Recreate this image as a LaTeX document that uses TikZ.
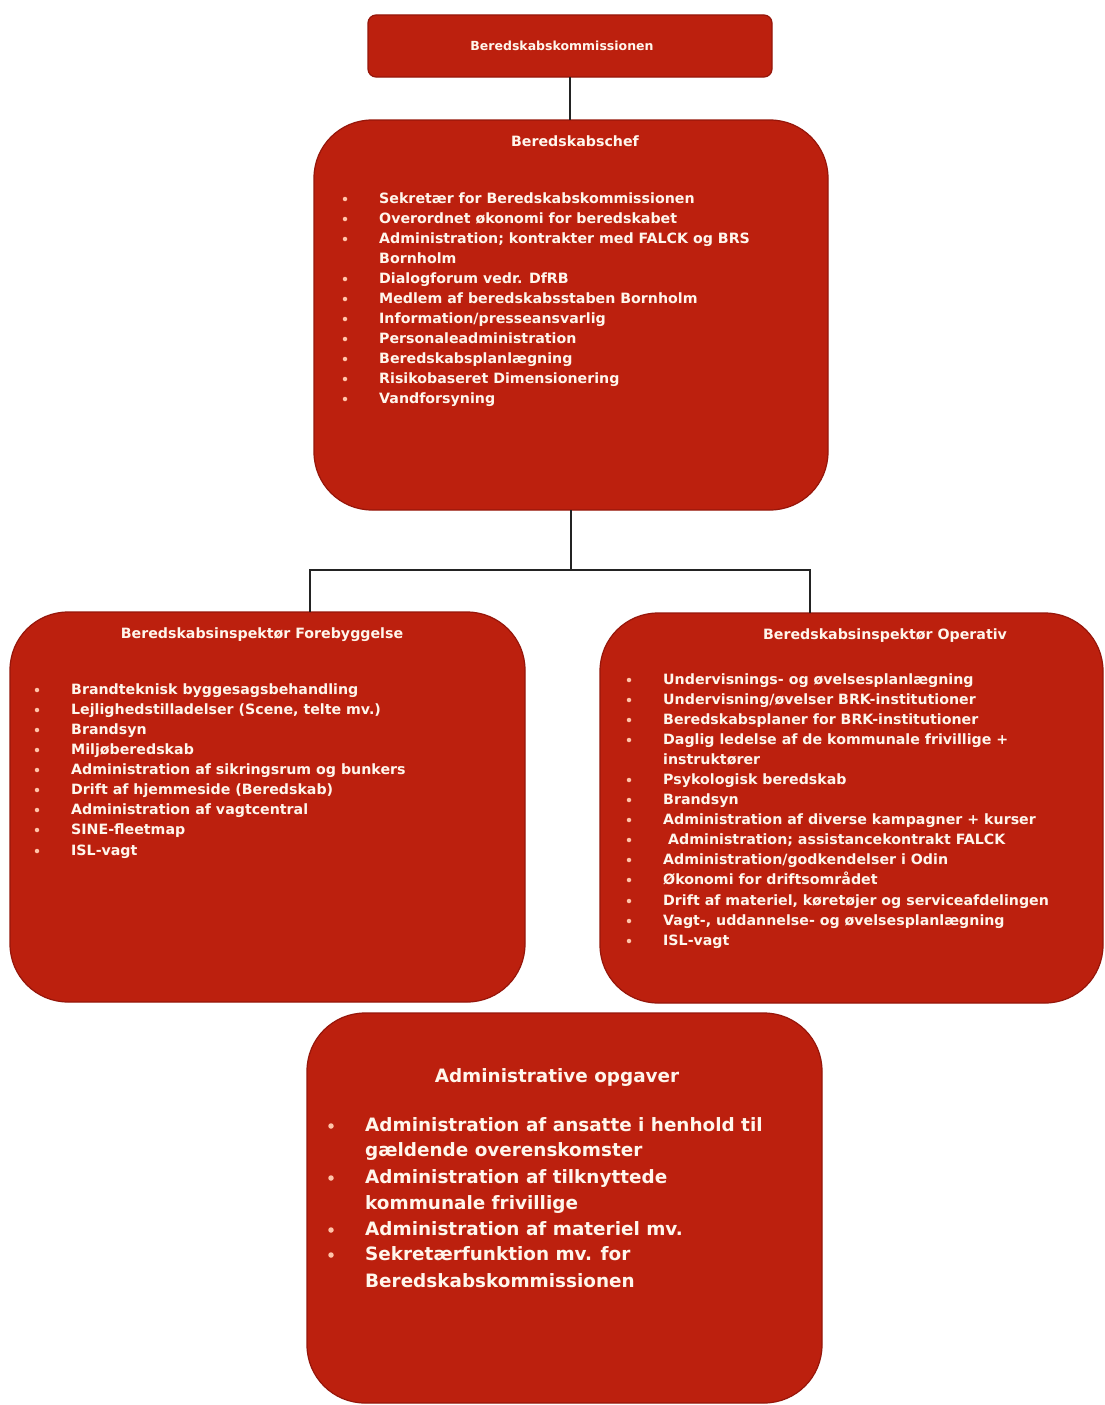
\documentclass[tikz,border=0pt]{standalone}
\usepackage{fontspec}
\setmainfont{DejaVu Sans}
\definecolor{boxred}{RGB}{188,32,14}
\definecolor{boxedge}{RGB}{150,22,10}
\definecolor{txtc}{RGB}{255,246,236}
\definecolor{bulc}{RGB}{255,196,170}
\definecolor{linec}{RGB}{35,35,35}
\tikzset{
  orgbox/.style={draw=boxedge, fill=boxred, line width=1.2pt, inner sep=0pt, outer sep=0pt},
  itemtxt/.style={text=txtc, font=\bfseries\fontsize{14.2}{17}\selectfont, inner sep=0pt, anchor=base west},
  bigtxt/.style={text=txtc, font=\bfseries\fontsize{18.4}{22}\selectfont, inner sep=0pt, anchor=base west},
  ttltxt/.style={text=txtc, font=\bfseries\fontsize{14.2}{17}\selectfont, inner sep=0pt, anchor=base},
  bigttl/.style={text=txtc, font=\bfseries\fontsize{18.4}{22}\selectfont, inner sep=0pt, anchor=base},
  bulletdot/.style={circle, fill=bulc, minimum size=4.5pt, inner sep=0pt},
  bigdot/.style={circle, fill=bulc, minimum size=5.5pt, inner sep=0pt},
  conn/.style={draw=linec, line width=1.8pt}
}
% #1 name, #2 bullet x, #3 text x, #4 centre y, #5 text
\newcommand{\bitem}[5]{%
  \node[bulletdot] (#1b) at (#2,#4) {};
  \node[itemtxt] (#1) at (#3,#4+4) {#5};}
\newcommand{\citem}[4]{%
  \node[itemtxt] (#1) at (#2,#3+4) {#4};}
\newcommand{\bigitem}[5]{%
  \node[bigdot] (#1b) at (#2,#4) {};
  \node[bigtxt] (#1) at (#3,#4+5) {#5};}
\newcommand{\bigcont}[4]{%
  \node[bigtxt] (#1) at (#2,#3+5) {#4};}
\begin{document}
\begin{tikzpicture}[x=1pt,y=-1pt]
\useasboundingbox (0,0) rectangle (1104,1405);
\fill[white] (0,0) rectangle (1104,1405);

% boxes
\node[orgbox, minimum width=404pt, minimum height=62pt, rounded corners=8pt] (komm) at (570,46) {};
\node[orgbox, minimum width=514pt, minimum height=390pt, rounded corners=58pt] (chef) at (571,315) {};
\node[orgbox, minimum width=515pt, minimum height=390pt, rounded corners=58pt] (fore) at (267.5,807) {};
\node[orgbox, minimum width=503pt, minimum height=390pt, rounded corners=58pt] (oper) at (851.5,808) {};
\node[orgbox, minimum width=515pt, minimum height=390pt, rounded corners=58pt] (admin) at (564.5,1208) {};

% connectors
\coordinate (bus) at (571,570);
\coordinate (busL) at (310,570);
\coordinate (busR) at (810,570);
\draw[conn] (komm.south) -- (komm.south |- chef.north);
\draw[conn] (chef.south) -- (bus);
\draw[conn, line cap=rect] (busL) -- (busR);
\draw[conn] (busL) -- (busL |- fore.north);
\draw[conn] (busR) -- (busR |- oper.north);

% titles
\node[text=txtc, font=\bfseries\fontsize{12.5}{15}\selectfont, inner sep=0pt, anchor=base] (kommT) at (562,51) {Beredskabskommissionen};
\node[ttltxt] (chefT) at (575,146) {Beredskabschef};
\node[ttltxt] (foreT) at (262,638) {Beredskabsinspektør Forebyggelse};
\node[ttltxt] (operT) at (885,639) {Beredskabsinspektør Operativ};
\node[bigttl] (adminT) at (557,1082) {Administrative opgaver};

% chef items
\bitem{c1}{345}{379}{199}{Sekretær for Beredskabskommissionen}
\bitem{c2}{345}{379}{219}{Overordnet økonomi for beredskabet}
\bitem{c3}{345}{379}{239}{Administration; kontrakter med FALCK og BRS}
\citem{c3b}{379}{259}{Bornholm}
\bitem{c4}{345}{379}{279}{Dialogforum vedr. DfRB}
\bitem{c5}{345}{379}{299}{Medlem af beredskabsstaben Bornholm}
\bitem{c6}{345}{379}{319}{Information/presseansvarlig}
\bitem{c7}{345}{379}{339}{Personaleadministration}
\bitem{c8}{345}{379}{359}{Beredskabsplanlægning}
\bitem{c9}{345}{379}{379}{Risikobaseret Dimensionering}
\bitem{c10}{345}{379}{399}{Vandforsyning}

% forebyggelse items
\bitem{f1}{37}{71}{690}{Brandteknisk byggesagsbehandling}
\bitem{f2}{37}{71}{710}{Lejlighedstilladelser (Scene, telte mv.)}
\bitem{f3}{37}{71}{730}{Brandsyn}
\bitem{f4}{37}{71}{750}{Miljøberedskab}
\bitem{f5}{37}{71}{770}{Administration af sikringsrum og bunkers}
\bitem{f6}{37}{71}{790}{Drift af hjemmeside (Beredskab)}
\bitem{f7}{37}{71}{810}{Administration af vagtcentral}
\bitem{f8}{37}{71}{830}{SINE-fleetmap}
\bitem{f9}{37}{71}{851}{ISL-vagt}

% operativ items
\bitem{o1}{629}{663}{680}{Undervisnings- og øvelsesplanlægning}
\bitem{o2}{629}{663}{700}{Undervisning/øvelser BRK-institutioner}
\bitem{o3}{629}{663}{720}{Beredskabsplaner for BRK-institutioner}
\bitem{o4}{629}{663}{740}{Daglig ledelse af de kommunale frivillige +}
\citem{o4b}{663}{760}{instruktører}
\bitem{o5}{629}{663}{780}{Psykologisk beredskab}
\bitem{o6}{629}{663}{800}{Brandsyn}
\bitem{o7}{629}{663}{820}{Administration af diverse kampagner + kurser}
\bitem{o8}{629}{668}{840}{Administration; assistancekontrakt FALCK}
\bitem{o9}{629}{663}{860}{Administration/godkendelser i Odin}
\bitem{o10}{629}{663}{880}{Økonomi for driftsområdet}
\bitem{o11}{629}{663}{901}{Drift af materiel, køretøjer og serviceafdelingen}
\bitem{o12}{629}{663}{921}{Vagt-, uddannelse- og øvelsesplanlægning}
\bitem{o13}{629}{663}{941}{ISL-vagt}

% administrative items
\bigitem{a1}{331}{365}{1126}{Administration af ansatte i henhold til}
\bigcont{a1b}{365}{1151}{gældende overenskomster}
\bigitem{a2}{331}{365}{1178}{Administration af tilknyttede}
\bigcont{a2b}{365}{1204}{kommunale frivillige}
\bigitem{a3}{331}{365}{1230}{Administration af materiel mv.}
\bigitem{a4}{331}{365}{1255}{Sekretærfunktion mv. for}
\bigcont{a4b}{365}{1282}{Beredskabskommissionen}
\end{tikzpicture}
\end{document}
